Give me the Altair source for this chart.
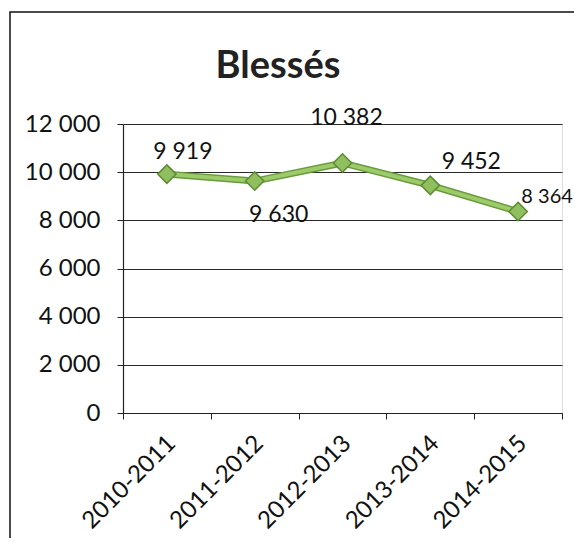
import altair as alt
import pandas as pd

periods = ["2010-2011", "2011-2012", "2012-2013", "2013-2014", "2014-2015"]
values = [9919, 9630, 10382, 9452, 8364]
y_ticks = [0, 2000, 4000, 6000, 8000, 10000, 12000]

df = pd.DataFrame({"period": periods, "value": values})

FONT = "Lato"
TXT = "#111111"
fmt = "replace(format(datum.value, ','), ',', ' ')"

base = alt.Chart(df).encode(
    x=alt.X("period:N", sort=periods, title=None,
            scale=alt.Scale(paddingInner=0, paddingOuter=0),
            axis=alt.Axis(labelAngle=-45, labelAlign="right", labelBaseline="top",
                          tickBand="extent", ticks=True, tickSize=6, tickColor="#222",
                          domainColor="#222", domainWidth=1.2, labelFont=FONT,
                          labelFontSize=24, labelColor=TXT, labelPadding=12,
                          labelOffset=-4, grid=False)),
    y=alt.Y("value:Q", title=None,
            scale=alt.Scale(domain=[0, 12000], nice=False),
            axis=alt.Axis(values=y_ticks, labelExpr=fmt, tickSize=6, tickColor="#222",
                          domainColor="#222", domainWidth=1.2, gridColor="#2a2a2a",
                          gridWidth=1.2, labelFont=FONT, labelFontSize=24,
                          labelColor=TXT, labelPadding=17)),
)

line_dark = base.mark_line(color="#6a9a3c", strokeWidth=7)
line_light = base.mark_line(color="#9ccc6a", strokeWidth=4)
points = base.mark_point(shape="diamond", size=340, filled=True, fill="#8fbf5e",
                         stroke="#5d8c33", strokeWidth=1.5, opacity=1)

# (dx, dy, fontSize) per label
offsets = [(16, -22, 23), (24, 34, 23), (4, -45, 23), (41, -23, 23), (29, -15, 20)]
label_layers = []
for p, (dx, dy, fs) in zip(periods, offsets):
    label_layers.append(
        base.transform_filter(alt.datum.period == p)
        .transform_calculate(label="replace(format(datum.value, ','), ',', ' ')")
        .mark_text(font=FONT, fontSize=fs, color=TXT, dx=dx, dy=dy)
        .encode(text="label:N")
    )

frame = alt.Chart(pd.DataFrame({"k": [0]})).mark_rect(
    fill=None, stroke="#111", strokeWidth=1.5, clip=False
).encode(x=alt.value(-113), x2=alt.value(520), y=alt.value(-112), y2=alt.value(480))

title = alt.Chart(pd.DataFrame({"t": ["Blessés"]})).mark_text(
    font=FONT, fontSize=38, fontWeight="bold", color="#222", baseline="alphabetic",
    align="center"
).encode(text="t:N", x=alt.value(155), y=alt.value(-46))

chart = alt.layer(frame, title, line_dark, line_light, points, *label_layers).properties(
    width=439, height=289,
    autosize=alt.AutoSizeParams(type="none"),
    padding={"left": 115, "top": 116, "right": 12, "bottom": 125},
).configure_view(stroke=None).configure(background="white")

chart.save("out.html", embed_options={"renderer": "svg", "actions": False})
